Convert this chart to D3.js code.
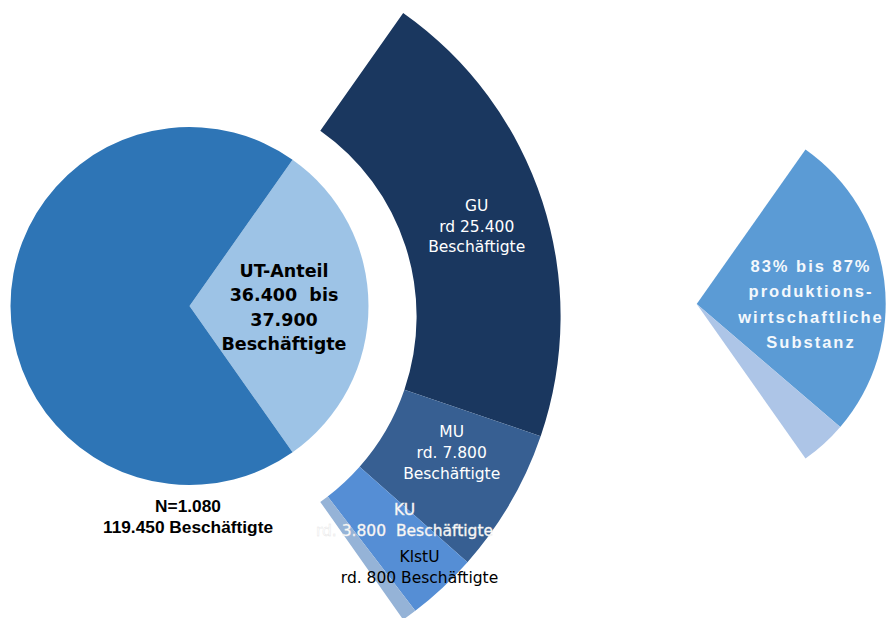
<!DOCTYPE html>
<html>
<head>
<meta http-equiv="Content-Type" content="text/html;charset=utf-8">
<script type="text/javascript" src="https://d3js.org/d3.v7.min.js"></script>
<style>
  body { margin: 0; background: #fff; }
  svg { display: block; }
  text { white-space: pre; }
</style>
</head>
<body>
<div id="chart"></div>
<script type="text/javascript">

// main pie: UT share of all employees
var pieNames = ["UT", "Rest"];
var pieValues = [36400, 119450 - 36400];
var pieColors = ["#9dc3e6", "#2e75b6"];

// breakdown of the UT share by company size
var ringNames = ["GU", "MU", "KU", "KlstU"];
var ringValues = [25400, 7800, 3800, 800];
var ringColors = ["#1a375f", "#375f92", "#558ed5", "#95b3d7"];

// production-related share (percent)
var wedgeNames = ["produktionswirtschaftlich", "Rest"];
var wedgeValues = [87, 13];
var wedgeColors = ["#5b9bd5", "#adc5e7"];

var width = 888, height = 618;

var svg = d3.select("#chart").append("svg")
    .attr("width", width)
    .attr("height", height);

// UT slice centred on the right-hand side (90deg)
var total = d3.sum(pieValues);
var utSpan = 2 * Math.PI * pieValues[0] / total;
var a0 = Math.PI / 2 - utSpan / 2;

var pie = d3.pie().sort(null).startAngle(a0).endAngle(a0 + 2 * Math.PI);
var arcPie = d3.arc().innerRadius(0).outerRadius(179);

var gPie = svg.append("g").attr("transform", "translate(189.5,306)");
gPie.selectAll("path")
    .data(pie(pieValues))
    .enter().append("path")
    .attr("d", arcPie)
    .attr("fill", function (d, i) { return pieColors[i]; });

// ring spans the same angle as the UT slice
var ringPie = d3.pie().sort(null).startAngle(a0).endAngle(a0 + utSpan);
var arcRing = d3.arc().innerRadius(227).outerRadius(371);

var gRing = svg.append("g").attr("transform", "translate(189.6,316.3)");
gRing.selectAll("path")
    .data(ringPie(ringValues))
    .enter().append("path")
    .attr("d", arcRing)
    .attr("fill", function (d, i) { return ringColors[i]; });

// right wedge
var wedgePie = d3.pie().sort(null).startAngle(a0).endAngle(a0 + utSpan);
var arcWedge = d3.arc().innerRadius(0).outerRadius(189);

var gWedge = svg.append("g").attr("transform", "translate(696.7,304)");
gWedge.selectAll("path")
    .data(wedgePie(wedgeValues))
    .enter().append("path")
    .attr("d", arcWedge)
    .attr("fill", function (d, i) { return wedgeColors[i]; });

// labels
function label(lines, x, y, dy, style) {
  var t = svg.append("text")
      .attr("x", x).attr("y", y)
      .attr("text-anchor", "middle")
      .style("font-family", style.family)
      .style("font-size", style.size + "px")
      .style("font-weight", style.weight || "normal")
      .style("letter-spacing", (style.spacing || 0) + "px")
      .attr("fill", style.fill);
  if (style.stroke) t.attr("stroke", style.stroke).attr("stroke-width", style.strokeWidth);
  lines.forEach(function (s, i) {
    t.append("tspan").attr("x", x).attr("y", y + i * dy).text(s);
  });
  return t;
}

var boldV = { family: "DejaVu Sans", size: 17.5, weight: "bold", fill: "#000" };
var plainW = { family: "DejaVu Sans", size: 15.5, fill: "#fff" };

label(["UT-Anteil", "36.400  bis", "37.900", "Beschäftigte"], 284, 276.7, 24.5, boldV);

label(["GU", "rd 25.400", "Beschäftigte"], 476.7, 210.7, 20.8, plainW);
label(["MU", "rd. 7.800", "Beschäftigte"], 451.7, 437.3, 21, plainW);
label(["KU", "rd. 3.800  Beschäftigte"], 404.5, 515, 21,
      { family: "DejaVu Sans", size: 15.5, fill: "#fff", stroke: "#e4e4e4", strokeWidth: 0.4 });
label(["KlstU", "rd. 800 Beschäftigte"], 419.5, 562.3, 21,
      { family: "DejaVu Sans", size: 15.5, fill: "#000" });

label(["N=1.080", "119.450 Beschäftigte"], 188, 512.3, 20.4,
      { family: "Liberation Sans", size: 17.3, weight: "bold", fill: "#000" });

label(["83% bis 87%", "produktions-", "wirtschaftliche", "Substanz"], 811, 271.7, 25.5,
      { family: "Liberation Sans", size: 16.5, weight: "bold", fill: "#f4f8fc", spacing: 2 });

</script>
</body>
</html>
